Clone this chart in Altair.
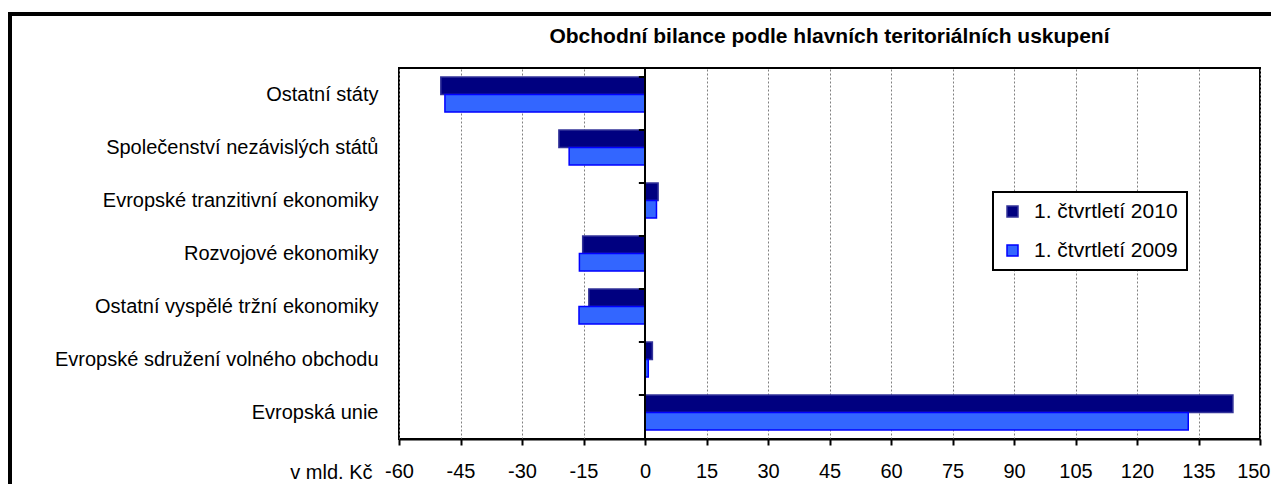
import altair as alt
import pandas as pd

title_text = "Obchodní bilance podle hlavních teritoriálních uskupení"
categories = [
    "Ostatní státy",
    "Společenství nezávislých států",
    "Evropské tranzitivní ekonomiky",
    "Rozvojové ekonomiky",
    "Ostatní vyspělé tržní ekonomiky",
    "Evropské sdružení volného obchodu",
    "Evropská unie",
]
series = ["1. čtvrtletí 2010", "1. čtvrtletí 2009"]
values_2010 = [-49.8, -21.0, 3.2, -15.2, -13.7, 1.8, 143.4]
values_2009 = [-48.8, -18.5, 2.8, -16.0, -16.1, 0.8, 132.5]
x_ticks = [-60, -45, -30, -15, 0, 15, 30, 45, 60, 75, 90, 105, 120, 135, 150]

FONT = "Liberation Sans"

rows = []
for c, v in zip(categories, values_2010):
    rows.append({"cat": c, "series": series[0], "value": v})
for c, v in zip(categories, values_2009):
    rows.append({"cat": c, "series": series[1], "value": v})
df = pd.DataFrame(rows)
cat_df = pd.DataFrame({"cat": categories, "zero": 0.0, "tick": -1.5})

yscale = alt.Scale(domain=categories, paddingInner=0.34, paddingOuter=0.17)
xscale = alt.Scale(domain=[-60, 150], nice=False, zero=False)

legend = alt.Legend(title=None, orient="none", legendX=594, legendY=124)

bars = alt.Chart(df).mark_bar(strokeWidth=1.5, cornerRadius=0).encode(
    y=alt.Y("cat:N", scale=yscale, sort=categories,
            axis=alt.Axis(title=None, ticks=False, domain=False, labelFontSize=20,
                          labelFont=FONT, labelColor="black", labelPadding=21,
                          labelLimit=500, grid=False)),
    yOffset=alt.YOffset("series:N", sort=series, scale=alt.Scale(domain=series)),
    x=alt.X("value:Q", scale=xscale,
            axis=alt.Axis(values=x_ticks, labelExpr="toString(datum.value)",
                          title="v mld. Kč", titleX=-27, titleY=39,
                          titleAlign="right", titleBaseline="alphabetic",
                          titleFontSize=20, titleFont=FONT, titleFontWeight="normal",
                          titleColor="black", titleAnchor="start", labelFontSize=20,
                          labelFont=FONT, labelColor="black", labelPadding=16,
                          labelFlush=False,
                          labelAlign={"condition": {"test": "datum.value == 150", "value": "right"},
                                      "value": "center"},
                          labelOffset={"condition": {"test": "datum.value == 150", "value": 10},
                                       "value": 0},
                          tickSize=6, tickWidth=2, tickColor="black",
                          domainColor="black", domainWidth=2, grid=True,
                          gridColor="#808080", gridDash=[2, 2], gridWidth=1)),
    color=alt.Color("series:N", scale=alt.Scale(domain=series, range=["#000080", "#3366FF"]),
                    legend=legend),
    stroke=alt.Stroke("series:N", scale=alt.Scale(domain=series, range=["#333399", "#0000FF"]),
                      legend=legend),
)

zero_rule = alt.Chart(cat_df).mark_rule(color="black", strokeWidth=2).encode(
    x=alt.X("zero:Q", scale=xscale)
)

cat_ticks = alt.Chart(cat_df).mark_rule(color="black", strokeWidth=2).encode(
    y=alt.Y("cat:N", scale=yscale, sort=categories, bandPosition=0),
    x=alt.X("tick:Q", scale=xscale),
    x2=alt.X2("zero:Q"),
)

title_mark = alt.Chart(pd.DataFrame({"t": [title_text]})).mark_text(
    font=FONT, fontSize=21, fontWeight="bold", color="black",
    align="center", baseline="alphabetic", clip=False
).encode(
    text="t:N", x=alt.value(430.5), y=alt.value(-25)
)

one = pd.DataFrame({"a": [0]})
frame_left = alt.Chart(one).mark_rule(color="black", strokeWidth=4, clip=False).encode(
    x=alt.value(-389), y=alt.value(-56), y2=alt.value(416)
)
frame_top = alt.Chart(one).mark_rule(color="black", strokeWidth=4, clip=False).encode(
    x=alt.value(-391), x2=alt.value(872), y=alt.value(-54)
)

chart = alt.layer(bars, zero_rule, cat_ticks, title_mark, frame_left, frame_top).properties(
    width=861,
    height=371,
    background="white",
    autosize=alt.AutoSizeParams(type="none"),
    padding={"left": 391, "top": 60, "right": 11, "bottom": 45},
).configure_view(
    stroke="black", strokeWidth=2
).configure_legend(
    fillColor="white", strokeColor="black", strokeWidth=2, padding=9,
    cornerRadius=0, symbolType="square", symbolSize=121, symbolStrokeWidth=1.5,
    labelFontSize=21, labelFont=FONT, labelColor="black", rowPadding=17,
    labelOffset=11, symbolOpacity=1
)

chart.save("out.html", embed_options={"renderer": "svg", "actions": False})
